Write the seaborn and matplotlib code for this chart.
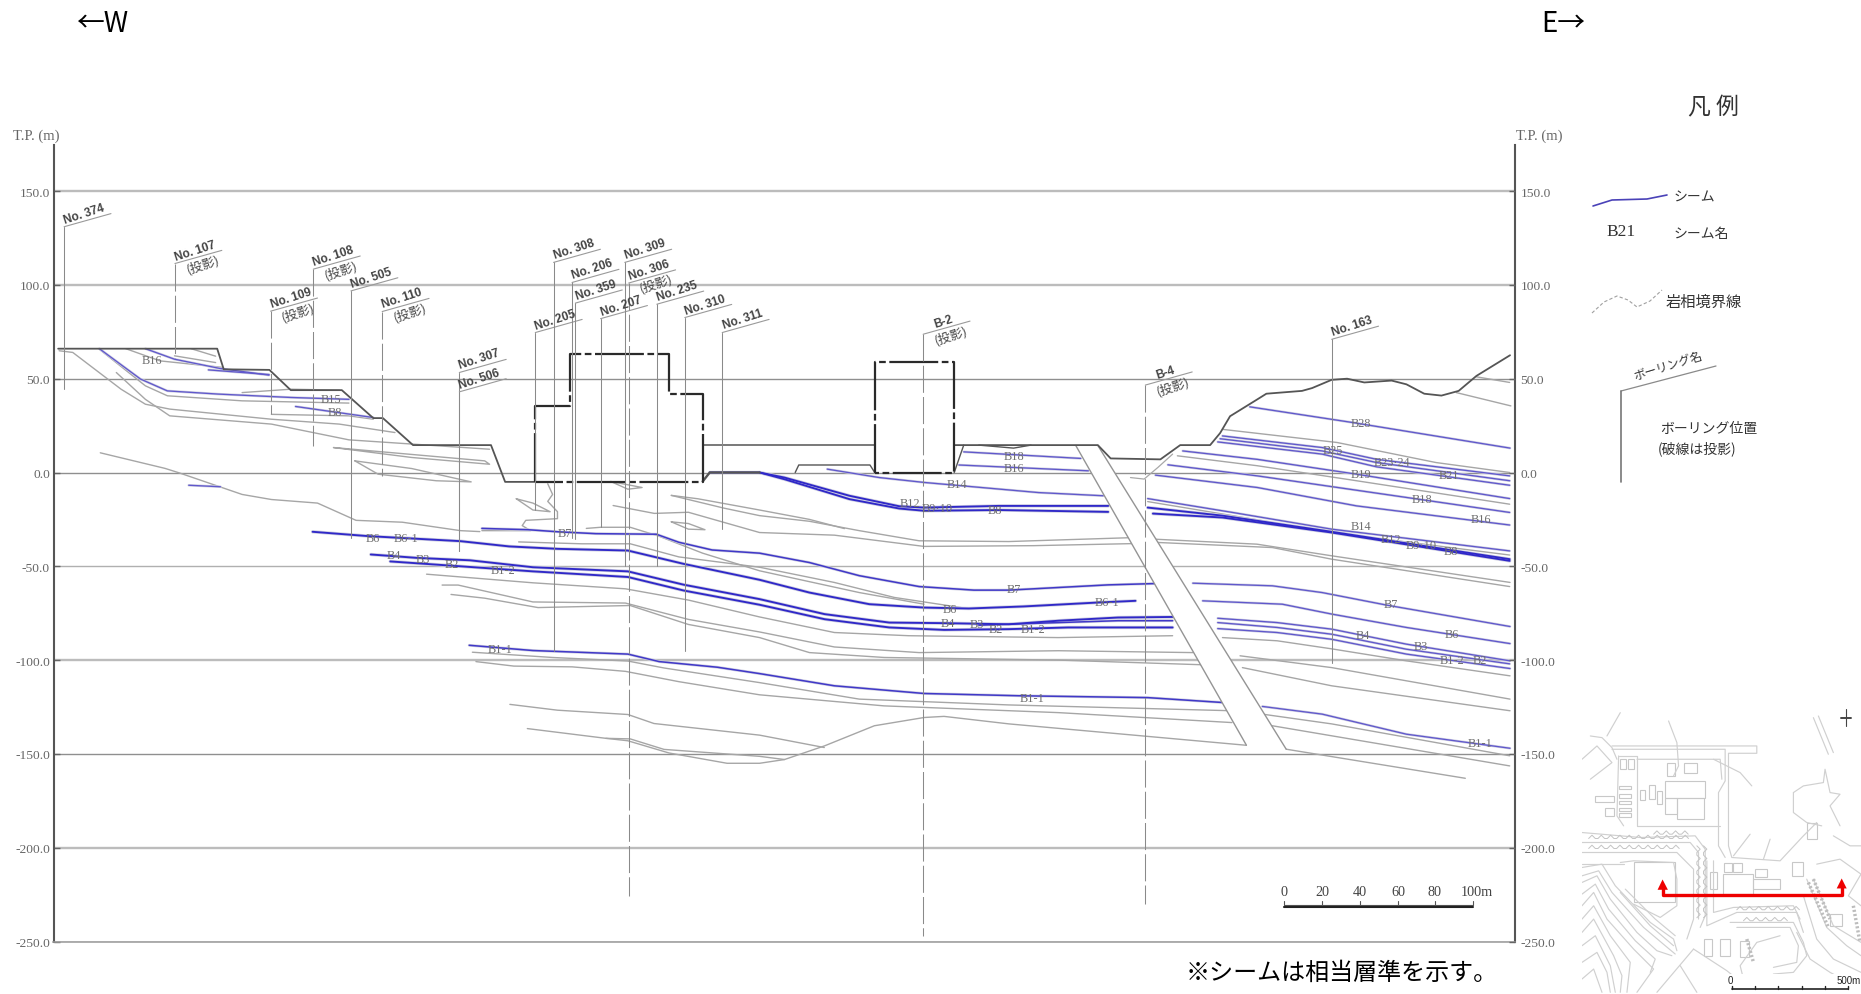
import matplotlib
matplotlib.use("Agg")
import matplotlib.pyplot as plt
from matplotlib.patches import Rectangle
import seaborn as sns

sns.set_theme(style="white")
plt.rcParams['font.family'] = ['Liberation Serif', 'Noto Sans CJK JP', 'DejaVu Sans']
CJK = ['Noto Sans CJK JP', 'DejaVu Sans']
NARROW = ['Liberation Sans Narrow', 'Liberation Sans', 'DejaVu Sans']

# ---------- axis values ----------
tp_ticks = [150, 100, 50, 0, -50, -100, -150, -200, -250]
tp_labels = ['150.0', '100.0', '50.0', '0.0', '-50.0', '-100.0', '-150.0', '-200.0', '-250.0']
scale_ticks = [1082, 1114, 1146, 1178, 1209, 1241]
scale_labels = ['0', '20', '40', '60', '80', '100m']

# ---------- ground and structures ----------
ground_x = [49, 183, 188.5, 227, 245, 288, 314.5, 322.6, 348, 413.7, 425.6, 451]
ground_y = [66, 66, 55, 54.7, 43.9, 43.9, 29, 29, 14.6, 14.6, -5, -5]
plain1_x = [592, 737]
plain1_y = [14.6, 14.6]
plain2_x = [804, 925, 935.8, 977.7, 994.4, 1019.6, 1028, 1036.4, 1059.4, 1067, 1097, 1105.5, 1122, 1135,
            1149.5, 1172.5, 1185, 1200, 1214.5, 1229, 1244, 1272.3]
plain2_y = [14.6, 14.6, 7.5, 7, 14.6, 14.6, 21, 30, 39, 42, 43.5, 45, 49.4, 50, 48, 49, 47, 42, 41, 43.5, 51.5, 62.5]
lower_x = [592, 598, 640]
lower_y = [-4.8, 0, 0]
shelf_x = [670, 673, 733, 737]
shelf_y = [0, 4, 4, 0]
notch_x = [804, 812]
notch_y = [0, 14.6]
hump_x = [824.7, 854, 868.7]
hump_y = [14.6, 13, 14.6]
vee_x = [952.5, 964, 975.6, 988]
vee_y = [-2.7, -3.5, 2.7, 9.8]
bldg1_x = [451, 451, 480, 480, 564, 564, 592, 592, 451]
bldg1_y = [-4.8, 35.5, 35.5, 63.4, 63.4, 42, 42, -4.8, -4.8]
bldg2_x = [737, 737, 804, 804, 737]
bldg2_y = [0, 59, 59, 0, 0]
fault_x = [906.4, 925, 1083.7, 1050.2]
fault_y = [14.4, 14.4, -147.5, -145.4]

# ---------- seams (blue) ----------
b6w_x = [263.4, 310, 388, 429, 470, 529, 576, 640, 682, 732.5, 778.6, 816.3, 862.4, 925.3, 956.7]
b6w_y = [-31.6, -33.9, -36.6, -39.4, -40.7, -41.6, -48.7, -57.2, -64, -70.2, -72, -72.5, -71.4, -69.3, -68.4]
b6e_x = [1013.3, 1080.4, 1122.3, 1185, 1272.3]
b6e_y = [-68.4, -70.2, -75.5, -82.6, -91.2]
b7w_x = [406, 445, 470, 502, 553, 572, 600, 640, 682, 724, 774.4, 820.5, 850, 891.8, 933.7, 973.5]
b7w_y = [-29.8, -30.5, -31.6, -32.6, -32.9, -37.2, -41.3, -43, -48, -55, -60.8, -62.7, -62.7, -61.3, -59.9, -59.2]
b7e_x = [1005, 1072, 1114, 1168.4, 1272.3]
b7e_y = [-59, -60.4, -64, -70.7, -82.1]
b4w_x = [312.4, 351, 396, 449, 529, 576, 640, 694.8, 749.3, 795, 850, 892, 942, 988]
b4w_y = [-43.7, -45.5, -46.8, -50.5, -52.7, -59.8, -67.5, -75.5, -80, -80.3, -80.9, -79, -77.3, -77]
b4e_x = [1026, 1076, 1122, 1185, 1272.3]
b4e_y = [-77.7, -80, -83.5, -91.5, -100.4]
b2w_x = [328.8, 388, 449, 529, 576, 640, 694.8, 749.3, 795.4, 850, 900, 988]
b2w_y = [-47.4, -50, -52.7, -55.7, -62.9, -70.5, -78.2, -82.6, -83.9, -83.5, -82.6, -82.6]
b2e_x = [1026, 1076, 1122, 1185, 1272.3]
b2e_y = [-83.2, -85.3, -88.9, -96.8, -104.5]
b3w_x = [824.7, 891.8, 942, 988]
b3w_y = [-81.4, -80, -79, -79]
b3e_x = [1026, 1076, 1122, 1185, 1272]
b3e_y = [-80, -82.6, -86.2, -94.2, -102]
b11w_x = [395.3, 449, 529, 555.4, 604.4, 640, 703, 778.6, 858, 967, 1030]
b11w_y = [-92.1, -94.9, -96.8, -100.8, -103.8, -107.2, -113.7, -117.8, -119, -120, -122.6]
b11e_x = [1063.6, 1114, 1185, 1272.3]
b11e_y = [-124.7, -128.8, -139.5, -147]
b14w_x = [697, 740.9, 778.6, 875, 929.5]
b14w_y = [1.8, -2.7, -5.3, -10.7, -12.4]
b14e_x = [967, 1038.5, 1122, 1272]
b14e_y = [-13.9, -21.3, -30.2, -41.8]
b12w_x = [598, 640, 661, 715.7, 757.7, 778.6, 841.5, 933.7]
b12w_y = [0, 0, -2.7, -12.4, -18, -18.7, -17.8, -17.8]
b12e_x = [967, 1030, 1122, 1272]
b12e_y = [-18.7, -23, -31.6, -46.2]
b8w_x = [640, 661, 715.7, 757.7, 778.6, 841.5, 933.7]
b8w_y = [0, -3.6, -14.2, -19.2, -20.4, -20, -21]
b8e_x = [971.4, 1030, 1122, 1272]
b8e_y = [-21.9, -24, -32, -47.1]
b28_x = [1053, 1139, 1272.3]
b28_y = [35, 26.7, 13]
b25_x = [1030, 1114, 1160, 1272]
b25_y = [19.5, 13.3, 7, -1.8]
b23_x = [1028, 1114, 1160, 1272]
b23_y = [18, 11.5, 5.3, -4.4]
b21_x = [1026, 1114, 1160, 1272]
b21_y = [16.3, 9.8, 3, -6.8]
b19_x = [996.5, 1059.4, 1143, 1272]
b19_y = [11.5, 7, -0.9, -13.9]
b18_x = [984, 1059.4, 1185, 1272]
b18_y = [4.1, -1.8, -13.3, -21.3]
b16_x = [973.5, 1059.4, 1143, 1272]
b16_y = [-1.4, -8, -17.8, -28]
b18c_x = [812, 910.6]
b18c_y = [11, 7.5]
b16c_x = [808, 917]
b16c_y = [4, 0.9]
b16w_x = [122.5, 147, 185.8, 226.7]
b16w_y = [66, 60.4, 55.4, 51.9]
b16w2_x = [175.6, 226.7]
b16w2_y = [54.7, 52.2]
b15_x = [83.7, 118.4, 141, 183.8, 245, 294]
b15_y = [66, 49.8, 43.5, 41.8, 40, 39]
b8u_x = [249, 314.5]
b8u_y = [35.2, 29.3]
frag_x = [159, 185.8]
frag_y = [-6.8, -7.6]

# ---------- facies boundaries (gray) ----------
g01_x = [398, 465.6, 529, 559.5, 640, 724, 850, 1038]
g01_y = [-95.8, -98.6, -100.5, -104.2, -112, -120.8, -123.9, -127]
g02_x = [1063.6, 1122, 1272]
g02_y = [-128.8, -134, -151]
g03_x = [401, 433, 482, 527, 572, 640, 744.8, 891.8, 1038]
g03_y = [-100.8, -103.2, -103.6, -106, -111.5, -118.5, -124.4, -128, -133.3]
g04_x = [1072, 1272]
g04_y = [-135, -156.4]
g05_x = [429.6, 469.7, 529, 551, 640, 694.5]
g05_y = [-123.6, -126.7, -129, -133.8, -140, -146.6]
g06_x = [444.3, 510.5, 529, 563.6, 612.6, 640, 661, 694.8, 736.7, 778.6, 795.4, 850, 1050]
g06_y = [-136.5, -141.7, -143, -149.5, -155, -155, -153, -145.7, -135, -130.6, -130, -134, -145.4]
g07_x = [510.5, 531, 559.5, 640, 661]
g07_y = [-141.7, -142, -147.6, -151.3, -153]
g08_x = [1083.7, 1234.6]
g08_y = [-147.5, -163]
g09_x = [359.4, 449, 527, 580, 640, 703, 765.7, 891.8, 988]
g09_y = [-54.2, -58.8, -62, -68, -77, -85.3, -87, -88, -87]
g10_x = [1030, 1076, 1122, 1185, 1272.3]
g10_y = [-88, -89.7, -94, -100.4, -108.4]
g11_x = [372.5, 386, 449, 527, 580, 640, 703, 774.4, 891.8, 1005]
g11_y = [-60, -60, -69, -69.6, -78.3, -85, -93, -96, -95, -96]
g12_x = [1044.8, 1122, 1272.3]
g12_y = [-97.7, -104, -120.8]
g13_x = [380, 408.4, 453.3, 531, 580, 640, 682, 745, 891.8, 1038]
g13_y = [-65, -67, -72, -70.9, -81, -88, -96, -98.6, -100, -103]
g14_x = [1046.8, 1122, 1272.3]
g14_y = [-104, -113.7, -127]
g15_x = [437, 490, 531, 572, 640, 702.9, 753.5, 810]
g15_y = [-37, -38, -38, -45, -50.5, -58.6, -66.6, -72]
g16_x = [494, 506, 531, 555, 592, 640, 724, 778.6]
g16_y = [-29.8, -29.2, -29.2, -33.9, -43, -52.4, -64, -70.2]
g17_x = [565.6, 588, 640, 682, 711.5]
g17_y = [-12.2, -14, -20, -25, -29.9]
g18_x = [565.6, 610, 640, 682, 724, 774.4, 850, 954.7]
g18_y = [-12.2, -19, -23, -26, -31, -36.4, -36.8, -34.7]
g19_x = [971.4, 1059, 1122, 1272.3]
g19_y = [-35.5, -38.2, -44.4, -58.6]
g20_x = [516.6, 551.3, 580, 640, 703, 778.6, 870.8, 954.7]
g20_y = [-17.6, -21.8, -21.2, -32, -33.4, -39.4, -39, -37.9]
g21_x = [975.6, 1072, 1122, 1272]
g21_y = [-37.3, -40, -46.2, -60.8]
g22_x = [565.6, 580, 594, 580, 565.6]
g22_y = [-26.3, -27.2, -30.5, -30.2, -26.3]
g23_x = [435, 449, 463.5, 449, 435]
g23_y = [-14, -16.3, -20.9, -20, -14]
g24_x = [461.5, 465.6, 461.5, 469.7, 469.7, 443, 440, 447, 406]
g24_y = [-6, -11.7, -15.4, -20.9, -24.6, -25.5, -28.3, -31, -31]
g25_x = [514.6, 541, 529, 514.6]
g25_y = [-4.8, -8, -8.9, -4.8]
g26_x = [84.5, 139, 151, 204, 228.7, 267.5, 300, 339, 388, 404.3]
g26_y = [10.5, 2.2, -0.2, -11.7, -14.4, -16.3, -25.5, -26.5, -31, -31.5]
g27_x = [106, 134.8, 187.9]
g27_y = [66, 59.5, 56]
g28_x = [161, 181.7]
g28_y = [66, 62]
g29_x = [147, 181.7]
g29_y = [62.2, 58.6]
g30_x = [49.8, 61.3, 102, 122.5, 143, 228.7, 285.9, 332.8]
g30_y = [64.9, 64, 44.4, 36.4, 33.8, 28.4, 25.8, 21.3]
g31_x = [98, 122.5, 143, 228.7, 294, 412.5]
g31_y = [53.3, 39, 30.2, 25.8, 17.4, 12.4]
g32_x = [83.7, 122.5, 141, 204, 294]
g32_y = [65.7, 46.2, 40.9, 38.2, 37]
g33_x = [204, 245, 286]
g33_y = [42.6, 44.4, 43.9]
g34_x = [228.7, 294, 314.5]
g34_y = [31, 30.2, 28.4]
g35_x = [281, 408.4, 412.5, 347, 281]
g35_y = [13.3, 6.2, 4.4, 8, 13.3]
g36_x = [299, 347, 397, 367.6, 318.6, 299]
g36_y = [6.2, 2.1, -5, -4.4, -0.9, 6.2]
g37_x = [1030, 1126.5, 1210, 1272]
g37_y = [23, 16, 5.3, 0]
g38_x = [992, 1059.4, 1143, 1272]
g38_y = [8.9, 3.6, -4.4, -16.9]
g39_x = [1227, 1273]
g39_y = [42.6, 35.5]
g40_x = [1244, 1272]
g40_y = [51, 48]
g41_x = [967, 1038.5, 1122, 1272]
g41_y = [-15.5, -23, -32, -44]

# ---------- boreholes ----------
bore_names = ['No. 374', 'No. 107', 'No. 109', 'No. 108', 'No. 505', 'No. 110', 'No. 307', 'No. 506', 'No. 205',
              'No. 308', 'No. 206', 'No. 359', 'No. 207', 'No. 309', 'No. 306', 'No. 235', 'No. 310', 'No. 311',
              'B-2', 'B-4', 'No. 163']
bore_x = [54, 147.4, 228, 264, 295.7, 322, 387, 387, 451, 466.4, 482, 484.8, 506, 526.4, 529.7, 553.4, 577, 608.5,
          777.8, 965, 1122]
bore_top = [131, 111.4, 86, 108.4, 96.8, 85.8, 53.3, 43, 74.6, 112, 101.3, 90.3, 82, 112, 101, 89.7, 82.6, 74.6,
            73.7, 46.6, 71]
bore_bottom = [44.4, 61, 31, 14.2, -34.8, -1.8, -41.6, -41.6, -20, -95, -34.8, -35.3, -29, -50, -226, -50, -95, -30,
               -247, -230, -101.3]
bore_projected = [0, 1, 1, 1, 0, 1, 0, 0, 0, 0, 0, 0, 0, 0, 1, 0, 0, 0, 1, 1, 0]

# ---------- seam names ----------
seam_names = ['B16', 'B15', 'B8', 'B6', 'B6-1', 'B4', 'B3', 'B2', 'B1-2', 'B1-1', 'B7', 'B18', 'B16', 'B14', 'B12',
              'B9·10', 'B8', 'B7', 'B6-1', 'B6', 'B4', 'B3', 'B2', 'B1-2', 'B1-1', 'B28', 'B25', 'B23·24', 'B21',
              'B19', 'B18', 'B16', 'B14', 'B12', 'B9·10', 'B8', 'B7', 'B6', 'B4', 'B3', 'B1-2', 'B2', 'B1-1']
seam_name_x = [128, 279, 282, 314, 342, 332, 356, 381, 424, 421, 476, 854, 854, 806, 767, 790, 838, 854, 933, 800,
               799, 823, 839, 870, 870, 1147, 1123, 1173, 1221, 1147, 1198, 1248, 1147, 1172, 1197, 1222, 1172, 1223,
               1148, 1197, 1223, 1247, 1247]
seam_name_y = [60, 39, 32, -35, -35, -44, -46, -49, -52, -94, -32, 9, 2.5, -6.3, -16, -19, -20, -62, -69, -73, -80,
               -81, -83.5, -83.5, -120, 26.6, 12, 5.7, -1.3, -0.6, -14, -25, -28.5, -35.4, -38.6, -41.8, -70, -86,
               -86.7, -92.4, -100, -100, -144]

# ---------- figure ----------
fig = plt.figure(figsize=(18.61, 9.95), dpi=100, facecolor='white')
PX_L, PX_R, PX_T, PX_B = 53.5, 1515, 146, 942.5
ax = fig.add_axes([PX_L / 1861, 1 - PX_B / 995, (PX_R - PX_L) / 1861, (PX_B - PX_T) / 995])
ax.set_facecolor('none')


def draw(xs, ys, color, lw, ls='-', z=3, target=None):
    sns.lineplot(x=xs, y=ys, color=color, linewidth=lw, linestyle=ls, estimator=None, sort=False,
                 ax=target or ax, zorder=z, legend=False)


GRAY = '#a6a6a6'
BLUE_THICK = '#2f28c8'
BLUE = '#6058cc'
HALO = '#cfcfe0'
DASHDOT = (0, (22, 1.6, 3, 1.6))

thick = [(b6w_x, b6w_y), (b4w_x, b4w_y), (b2w_x, b2w_y), (b12w_x, b12w_y), (b8w_x, b8w_y), (b12e_x, b12e_y),
         (b8e_x, b8e_y)]
medium = [(b7w_x, b7w_y), (b11w_x, b11w_y), (b3w_x, b3w_y)]
thin = [(b6e_x, b6e_y), (b7e_x, b7e_y), (b4e_x, b4e_y), (b2e_x, b2e_y), (b3e_x, b3e_y),
        (b11e_x, b11e_y), (b14w_x, b14w_y), (b14e_x, b14e_y), (b28_x, b28_y), (b25_x, b25_y), (b23_x, b23_y),
        (b21_x, b21_y), (b19_x, b19_y), (b18_x, b18_y), (b16_x, b16_y), (b18c_x, b18c_y), (b16c_x, b16c_y),
        (b16w_x, b16w_y), (b16w2_x, b16w2_y), (b15_x, b15_y), (b8u_x, b8u_y), (frag_x, frag_y)]
facies = [(g01_x, g01_y), (g02_x, g02_y), (g03_x, g03_y), (g04_x, g04_y), (g05_x, g05_y), (g06_x, g06_y),
          (g07_x, g07_y), (g08_x, g08_y), (g09_x, g09_y), (g10_x, g10_y), (g11_x, g11_y), (g12_x, g12_y),
          (g13_x, g13_y), (g14_x, g14_y), (g15_x, g15_y), (g16_x, g16_y), (g17_x, g17_y), (g18_x, g18_y),
          (g19_x, g19_y), (g20_x, g20_y), (g21_x, g21_y), (g22_x, g22_y), (g23_x, g23_y), (g24_x, g24_y),
          (g25_x, g25_y), (g26_x, g26_y), (g27_x, g27_y), (g28_x, g28_y), (g29_x, g29_y), (g30_x, g30_y),
          (g31_x, g31_y), (g32_x, g32_y), (g33_x, g33_y), (g34_x, g34_y), (g35_x, g35_y), (g36_x, g36_y),
          (g37_x, g37_y), (g38_x, g38_y), (g39_x, g39_y), (g40_x, g40_y), (g41_x, g41_y)]

for xs, ys in facies:
    draw(xs, ys, GRAY, 1.0, z=2.5)
for xs, ys in thin:
    draw(xs, ys, HALO, 1.8, z=2.7)
    draw(xs, ys, BLUE, 0.95, z=3)
for xs, ys in medium:
    draw(xs, ys, HALO, 2.0, z=2.7)
    draw(xs, ys, '#4038c8', 1.1, z=3)
for xs, ys in thick:
    draw(xs, ys, HALO, 2.4, z=2.7)
    draw(xs, ys, BLUE_THICK, 1.35, z=3)

# fault zone masks every layer and grid line beneath it
ax.fill(fault_x, fault_y, color='white', zorder=4, lw=0)
draw(fault_x[:1] + fault_x[3:], fault_y[:1] + fault_y[3:], '#949494', 1.0, z=4.5)
draw(fault_x[1:3], fault_y[1:3], '#949494', 1.0, z=4.5)

# ground surface
for xs, ys, w in [(ground_x, ground_y, 1.3), (plain1_x, plain1_y, 1.1), (plain2_x, plain2_y, 1.3),
                  (lower_x, lower_y, 1.7), (shelf_x, shelf_y, 1.0), (notch_x, notch_y, 1.0), (hump_x, hump_y, 1.0)]:
    draw(xs, ys, '#555555', w, z=5)
draw(vee_x, vee_y, '#a8a8a8', 0.9, z=5)

# structures
draw(bldg1_x, bldg1_y, '#2a2a2a', 1.6, ls=DASHDOT, z=6)
draw(bldg2_x, bldg2_y, '#2a2a2a', 1.6, ls=DASHDOT, z=6)

# boreholes
LEAD_DX, LEAD_DY = 39.5, 7.0
for name, bx, top, bot, proj in zip(bore_names, bore_x, bore_top, bore_bottom, bore_projected):
    draw([bx, bx], [top, bot], '#8a8a8a', 0.75, ls=(0, (26, 4)) if proj else '-', z=7)
    draw([bx, bx + LEAD_DX], [top, top + LEAD_DY], '#9a9a9a', 0.8, z=7)
    ax.text(bx + LEAD_DX * 0.47, top + LEAD_DY * 0.47 + 0.8, name, rotation=18, rotation_mode='anchor', ha='center',
            va='bottom', fontsize=8.6, fontweight='bold', color='#444444', family=NARROW, zorder=8)
    if proj:
        ax.text(bx + LEAD_DX * 0.55, top + LEAD_DY * 0.55 - 0.6, '(投影)', rotation=18, rotation_mode='anchor',
                ha='center', va='top', fontsize=9.2, color='#444444', family=CJK, zorder=8)

for name, nx, ny in zip(seam_names, seam_name_x, seam_name_y):
    ax.text(nx, ny, name, ha='center', va='center', fontsize=8.8, color='#6e6e6e', zorder=8)

# scale bar
draw([scale_ticks[0], scale_ticks[-1]], [-230.6, -230.6], '#555555', 0.8, z=7)
draw([scale_ticks[0], scale_ticks[-1]], [-231.7, -231.7], '#222222', 1.5, z=7)
for tx, tl in zip(scale_ticks, scale_labels):
    draw([tx, tx], [-228.3, -230.6], '#555555', 0.8, z=7)
    ax.text(tx + (3 if tl == '100m' else 0), -223.5, tl, ha='center', va='center', fontsize=10.2, color='#444444')

# axes
xlim = (PX_L * 1568 / 1861, PX_R * 1568 / 1861)
ylim = ((473.5 - PX_B) / 1.876, (473.5 - PX_T) / 1.876)
ax.set_xlim(*xlim)
ax.set_ylim(*ylim)
ax.set_xlabel('')
ax.set_ylabel('')
ax.set_xticks([])
ax.set_yticks(tp_ticks)
ax.set_yticklabels(tp_labels)
ax.set_axisbelow(True)
ax.grid(axis='y', color='#8f8f8f', linewidth=1.0)
for level, gl in zip(tp_ticks, ax.get_ygridlines()):
    if level in (150, 100, -100, -200):
        gl.set_color('#bcbcbc')
        gl.set_linewidth(1.7)
    elif level == -50:
        gl.set_color('#b0b0b0')
ax.tick_params(axis='y', left=True, labelleft=True, direction='in', length=4, width=1.0, color='#666666',
               labelsize=9.7, labelcolor='#666666', pad=2.5)
for s in ['left', 'right']:
    ax.spines[s].set_visible(True)
    ax.spines[s].set_color('#555555')
    ax.spines[s].set_linewidth(1.5)
ax.spines['top'].set_visible(False)
ax.spines['bottom'].set_visible(True)
ax.spines['bottom'].set_color('#999999')
ax.spines['bottom'].set_linewidth(1.1)

right_axis = ax.twinx()
right_axis.set_ylim(*ylim)
right_axis.set_yticks(tp_ticks)
right_axis.set_yticklabels(tp_labels)
right_axis.grid(False)
right_axis.tick_params(axis='y', right=True, direction='in', length=4, width=1.0, color='#666666',
                       labelsize=9.7, labelcolor='#666666', pad=4)
for s in right_axis.spines.values():
    s.set_visible(False)

# ---------- page overlay: pixel coordinates of the sheet ----------
page = fig.add_axes([0, 0, 1, 1], facecolor='none')

legend_seam_x = [1593, 1612, 1647, 1667]
legend_seam_y = [207, 201, 200, 196]
legend_facies_x = [1592, 1604, 1617, 1628, 1637, 1650, 1662]
legend_facies_y = [314, 303, 297, 301, 308, 302, 291]
legend_bore_x = [1716, 1621, 1621]
legend_bore_y = [367, 392, 483]

draw(legend_seam_x, legend_seam_y, '#4a42b8', 1.2, target=page)
draw(legend_facies_x, legend_facies_y, '#a0a0a0', 0.8, ls=(0, (3, 2)), target=page)
draw(legend_bore_x[:2], legend_bore_y[:2], '#8a8a8a', 0.9, target=page)
draw(legend_bore_x[1:], legend_bore_y[1:], '#777777', 1.2, target=page)
page.set_xlim(0, 1861)
page.set_ylim(995, 0)
page.axis('off')

kw = dict(family=CJK, color='#333333', va='center', ha='left')
page.text(1688, 108, '凡 例', fontsize=16.5, **kw)
page.text(1674, 198, 'シーム', fontsize=10, **kw)
page.text(1606, 232, 'B21', fontsize=12.5, color='#333333', va='center', ha='left', family='Liberation Serif')
page.text(1674, 234, 'シーム名', fontsize=10, **kw)
page.text(1666, 302, '岩相境界線', fontsize=11, **kw)
page.text(1668, 366, 'ボーリング名', fontsize=8.6, rotation=17, rotation_mode='anchor', family=CJK, color='#333333',
          va='center', ha='center')
page.text(1660, 429, 'ボーリング位置', fontsize=10, **kw)
page.text(1658, 449, '(破線は投影)', fontsize=10, **kw)
page.text(13, 136, 'T.P. (m)', fontsize=10.5, color='#666666', va='center', ha='left')
page.text(1516, 136, 'T.P. (m)', fontsize=10.5, color='#666666', va='center', ha='left')
page.text(76, 24, '←W', fontsize=20, color='black', family=CJK, va='center', ha='left')
page.text(1541, 24, 'E→', fontsize=20, color='black', family=CJK, va='center', ha='left')
page.text(1186, 973, '※シームは相当層準を示す。', fontsize=17.3, color='black', family=CJK, va='center', ha='left')

# ---------- site plan inset ----------
site = fig.add_axes([1582 / 1861, 0, 279 / 1861, 293 / 995], facecolor='white')

site_buildings = [(375, 305, 120, 50), (375, 355, 35, 50), (410, 355, 80, 65), (235, 320, 38, 10), (235, 345, 38, 10),
                  (235, 365, 38, 10), (235, 385, 38, 10), (235, 402, 38, 10), (240, 240, 18, 28), (262, 240, 18, 28),
                  (300, 332, 14, 30), (325, 318, 18, 40), (350, 335, 14, 38), (165, 350, 55, 18), (195, 385, 25, 25),
                  (552, 552, 25, 28), (580, 552, 25, 28), (548, 585, 90, 60), (640, 600, 80, 30), (755, 550, 35, 40),
                  (600, 785, 28, 50), (490, 780, 25, 50), (540, 780, 30, 50), (870, 705, 35, 35), (280, 550, 125, 120),
                  (800, 430, 30, 50), (380, 250, 25, 40), (430, 250, 40, 30), (510, 580, 20, 50), (645, 570, 35, 25)]
site_roads = [
    [(215, 200), (650, 200), (650, 222), (565, 222), (565, 500), (575, 535), (720, 545), (790, 470), (830, 430)],
    [(215, 210), (555, 210), (555, 305), (535, 340), (535, 500), (555, 535)],
    [(235, 230), (290, 230), (290, 440), (380, 440), (540, 440)],
    [(235, 230), (230, 410), (250, 440)],
    [(290, 240), (540, 240), (545, 300)],
    [(150, 170), (185, 175), (215, 205), (230, 240)],
    [(125, 240), (170, 200), (215, 250), (150, 300)],
    [(125, 460), (300, 475), (465, 470), (495, 510), (495, 710), (480, 745)],
    [(125, 490), (300, 490), (450, 490), (475, 520), (475, 720)],
    [(125, 520), (270, 520), (410, 520), (460, 570), (460, 720), (440, 780)],
    [(240, 550), (280, 545), (400, 550), (410, 600), (410, 680), (360, 715), (280, 675)],
    [(125, 565), (185, 555), (225, 620), (330, 730), (400, 780), (410, 815)],
    [(125, 590), (175, 575), (215, 640), (310, 745), (375, 800), (405, 825)],
    [(125, 610), (170, 590), (210, 660), (290, 760), (350, 815), (395, 830)],
    [(125, 645), (165, 615), (205, 690), (285, 785), (345, 840), (330, 880)],
    [(125, 680), (160, 640), (200, 720), (280, 810), (340, 870), (290, 940)],
    [(125, 720), (160, 680), (210, 770), (270, 850), (260, 940)],
    [(125, 760), (160, 720), (220, 830), (245, 890), (240, 940)],
    [(125, 800), (165, 770), (210, 860), (225, 940)],
    [(125, 850), (170, 820), (200, 880), (210, 940)],
    [(125, 900), (160, 870), (185, 940)],
    [(240, 640), (330, 740), (400, 800)],
    [(255, 630), (345, 720), (405, 770)],
    [(500, 545), (500, 740), (590, 700), (770, 700), (790, 760)],
    [(520, 545), (520, 700), (580, 685), (760, 680), (780, 720)],
    [(570, 730), (760, 730), (790, 790), (800, 830), (760, 880), (700, 885)],
    [(590, 745), (750, 745), (775, 800), (770, 850), (700, 865)],
    [(460, 810), (560, 875), (640, 940)],
    [(460, 810), (350, 940)],
    [(420, 860), (470, 940)],
    [(800, 600), (860, 745), (920, 800), (963, 830)],
    [(820, 600), (880, 740), (963, 790)],
    [(790, 650), (830, 780), (880, 840), (963, 880)],
    [(770, 760), (810, 840), (870, 880), (963, 930)],
    [(830, 555), (900, 540), (963, 585), (925, 650), (963, 680)],
    [(880, 470), (930, 500), (963, 500)],
    [(760, 340), (790, 320), (850, 310), (855, 270), (870, 340), (900, 345), (870, 380), (900, 440)],
    [(760, 340), (760, 400), (800, 430), (845, 440)],
    [(620, 940), (600, 860), (650, 790), (720, 770)],
    [(820, 115), (865, 225)],
    [(835, 110), (880, 220)],
    [(385, 125), (410, 190), (415, 260), (400, 290)],
    [(240, 100), (200, 170)],
    [(520, 240), (600, 280), (635, 320)],
    [(580, 530), (630, 465)],
    [(670, 540), (690, 480)],
    [(125, 555), (250, 555)],
]
site_terrace_rows = [(145, 440, 478), (145, 400, 508), (340, 450, 465), (590, 760, 692), (610, 740, 725)]
site_terrace_cols = [(470, 500, 700), (490, 500, 700)]
site_hatch = [(805, 610, 865, 745), (820, 600, 870, 720), (620, 780, 640, 850), (940, 680, 960, 790)]
compass_x = [918, 918]
compass_y = [90, 140]
route_x = [367, 367, 905, 905]
route_y = [625, 648, 648, 625]
head_left_x = [352, 367, 383]
head_left_y = [632, 601, 632]
head_right_x = [890, 905, 920]
head_right_y = [628, 598, 628]
site_scale_ticks = [575, 645, 715, 785, 855, 925]

for (bx, by, bw, bh) in site_buildings:
    site.add_patch(Rectangle((bx, by), bw, bh, fill=False, ec='#c8c8c8', lw=0.8))
for road in site_roads:
    draw([p[0] for p in road], [p[1] for p in road], '#d0d0d0', 0.85, target=site)
for x0, x1, yy in site_terrace_rows:
    xs, ys, px = [], [], x0
    while px < x1:
        xs += [px, px + 10, px + 20]
        ys += [yy, yy - 10, yy]
        px += 28
    draw(xs, ys, '#c4c4c4', 0.7, target=site)
for x0, y0, y1 in site_terrace_cols:
    ys, xs, py = [], [], y0
    while py < y1:
        ys += [py, py + 10, py + 20]
        xs += [x0, x0 + 10, x0]
        py += 28
    draw(xs, ys, '#c4c4c4', 0.7, target=site)
for x0, y0, x1, y1 in site_hatch:
    draw([x0, x1], [y0, y1], '#bdbdbd', 2.5, ls=(0, (0.6, 0.6)), target=site)
draw(compass_x, compass_y, '#444444', 0.8, target=site)
draw([903, 933], [115, 115], '#444444', 1.4, target=site)
site.add_patch(Rectangle((555, 885), 408, 60, fc='white', ec='none', zorder=6))
draw(route_x, route_y, '#ee0000', 2.4, z=8, target=site)
site.fill(head_left_x, head_left_y, color='#ee0000', zorder=8, lw=0)
site.fill(head_right_x, head_right_y, color='#ee0000', zorder=8, lw=0)
draw([site_scale_ticks[0], site_scale_ticks[-1]], [930, 930], '#222222', 1.2, z=8, target=site)
for tx in site_scale_ticks:
    draw([tx, tx], [920, 930], '#222222', 1.0, z=8, target=site)
site.text(571, 902, '0', fontsize=7, family='Liberation Sans', ha='center', va='center', color='#222222', zorder=9)
site.text(925, 902, '500m', fontsize=7, family='Liberation Sans', ha='center', va='center', color='#222222', zorder=9)
site.set_xlim(125, 963)
site.set_ylim(945, 65)
site.axis('off')

fig.savefig('out.png', dpi=100, facecolor='white')
